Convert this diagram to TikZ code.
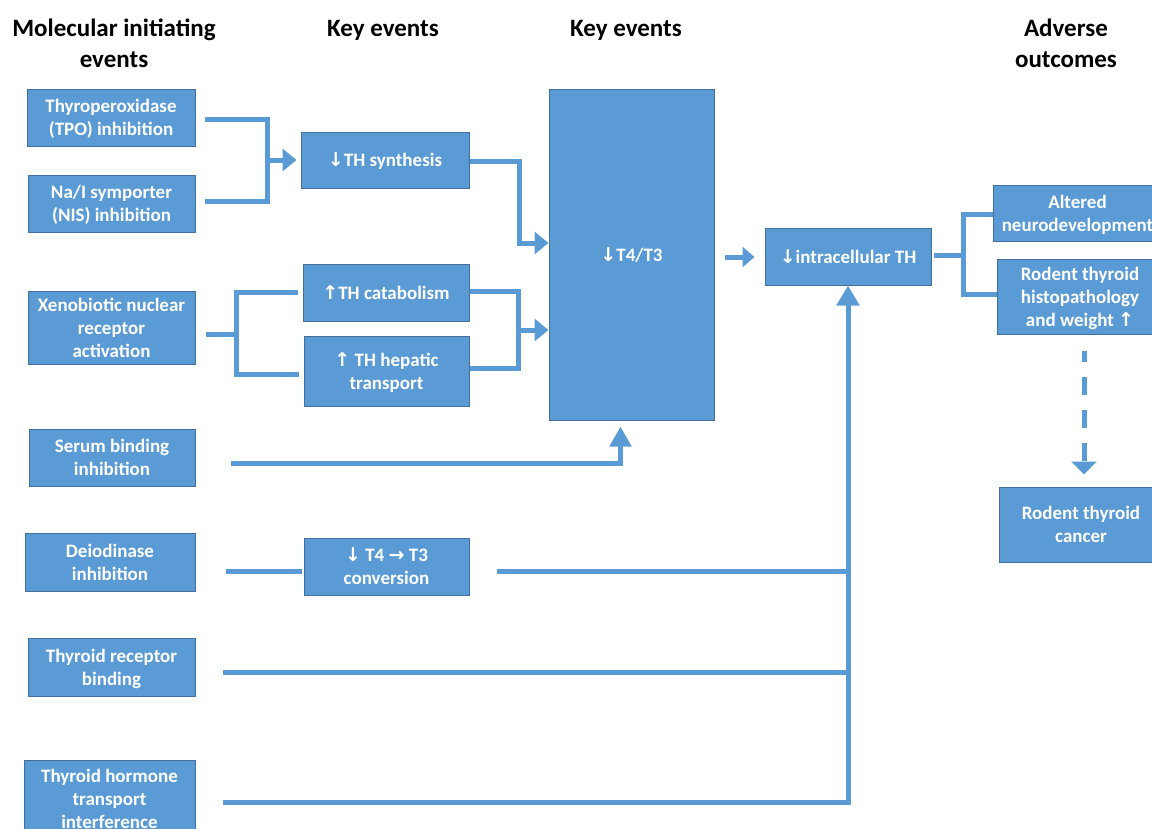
\documentclass[tikz,border=0pt]{standalone}
\usepackage{fontspec}
\setmainfont{Carlito}
\newfontfamily\symfont{DejaVu Sans}
\usetikzlibrary{arrows.meta,calc}
\definecolor{boxfill}{HTML}{5B9BD5}
\definecolor{boxedge}{HTML}{41719C}
\newcommand{\arrdown}{{\symfont\char"2193}}
\newcommand{\arrup}{{\symfont\char"2191}}
\newcommand{\arrright}{{\symfont\char"2192}}
% centred lines of box text, with a taller first row as in a word processor text frame
\newcommand{\cellstack}[1]{\begin{tabular}{@{}c@{}}\rule{0pt}{20pt}#1\end{tabular}}
\begin{document}
\begin{tikzpicture}[x=1pt,y=-1pt,
  box/.style={draw=boxedge, line width=1pt, fill=boxfill, text=white,
    font=\fontsize{19}{23}\selectfont\bfseries, inner sep=0pt},
  head/.style={font=\fontsize{25}{30.5}\selectfont\bfseries, align=center, text=black, inner sep=0pt},
  link/.style={draw=boxfill, line width=5pt},
  tip/.style={-{Triangle[length=14pt,width=22pt]}}]
\useasboundingbox (0,0) rectangle (1152,828);

% column headings
\node[head] (h1) at (114,43.5) {Molecular initiating\\events};
\node[head, anchor=base] (h2) at (383,36) {Key events};
\node[head, anchor=base] (h3) at (626,36) {Key events};
\node[head] (h4) at (1066,43.5) {Adverse\\outcomes};

% molecular initiating events
\node[box, minimum width=168pt, minimum height=57pt] (tpo) at (111,117.5) {\cellstack{Thyroperoxidase\\(TPO) inhibition}};
\node[box, minimum width=167pt, minimum height=57pt] (nis) at (111.5,203.5) {\cellstack{Na/I symporter\\(NIS) inhibition}};
\node[box, minimum width=167pt, minimum height=72pt] (xeno) at (111.5,328) {\cellstack{Xenobiotic nuclear\\receptor\\activation}};
\node[box, minimum width=166pt, minimum height=57pt] (serum) at (112,457.5) {\cellstack{Serum binding\\inhibition}};
\node[box, minimum width=170pt, minimum height=58pt] (deio) at (110,562) {\cellstack{Deiodinase\\inhibition}};
\node[box, minimum width=167pt, minimum height=58pt] (trb) at (111.5,667) {\cellstack{Thyroid receptor\\binding}};
\node[box, minimum width=171pt, minimum height=78pt] (tht) at (109.5,799) {\cellstack{Thyroid hormone\\transport\\interference}};

% key events
\node[box, minimum width=168pt, minimum height=56pt] (synth) at (385,160) {\cellstack{\arrdown TH synthesis}};
\node[box, minimum width=166pt, minimum height=57pt] (catab) at (386,292.5) {\cellstack{\arrup TH catabolism}};
\node[box, minimum width=165pt, minimum height=70pt] (hepat) at (386.5,371) {\cellstack{\arrup{} TH hepatic\\transport}};
\node[box, minimum width=165pt, minimum height=57pt] (conv) at (386.5,566.5) {\cellstack{\arrdown{} T4 \arrright{} T3\\conversion}};
\node[box, minimum width=165pt, minimum height=331pt] (t4t3) at (631.5,254.5) {\cellstack{\arrdown T4/T3}};
\node[box, minimum width=166pt, minimum height=57pt] (intra) at (848,256.5) {\cellstack{\arrdown intracellular TH}};

% adverse outcomes
\node[box, minimum width=169pt, minimum height=56pt] (neuro) at (1077.5,213) {\cellstack{Altered\\neurodevelopment}};
\node[box, minimum width=166pt, minimum height=75pt] (histo) at (1080,297) {\cellstack{Rodent thyroid\\histopathology\\and weight \arrup}};
\node[box, minimum width=164pt, minimum height=75pt] (cancer) at (1081,524.5) {\cellstack{Rodent thyroid\\cancer}};

% junction points
\coordinate (j1) at (267,160);
\coordinate (j2) at (519,243);
\coordinate (j3) at (236,334);
\coordinate (j4) at (518,330);
\coordinate (j5) at (963,255);

% TPO / NIS into TH synthesis
\draw[link] ($(tpo.east)+(9,1.5)$) -| (j1) |- ($(nis.east)+(9,-1.8)$);
\draw[link,tip] (j1) -- ($(synth.west)+(-4,0)$);
\draw[link,tip] ($(synth.east)+(0,1)$) -| (j2) -- (j2 -| t4t3.west);

% xenobiotic branch
\draw[link] ($(xeno.east)+(10,6)$) -- (j3);
\draw[link] ($(catab.west)+(-5,-0.5)$) -| (j3) |- ($(hepat.west)+(-5,3)$);
\draw[link] ($(catab.east)+(0,-1.5)$) -| (j4) |- ($(hepat.east)+(0,-3)$);
\draw[link,tip] (j4) -- (j4 -| t4t3.west);

% serum binding
\draw[link,-{Triangle[length=20pt,width=21pt]}] ($(serum.east)+(35,5.5)$) -| ($(t4t3.south)+(-11,6)$);

% deiodinase, receptor and transport lines into intracellular TH
\draw[link] ($(deio.east)+(30,9)$) -- ($(conv.west)+(-2,4.5)$);
\draw[link] ($(conv.east)+(27,4.5)$) -- ($(conv.east -| intra.south)+(2.5,4.5)$);
\draw[link] ($(trb.east)+(27,5)$) -- ($(trb.east -| intra.south)+(2.5,5)$);
\draw[link,-{Triangle[length=20pt,width=22pt]}] ($(tht.east)+(27,3)$) -| (intra.south);

% T4/T3 to intracellular TH
\draw[link,-{Triangle[length=12pt,width=20pt]}] ($(intra.west)+(-40,0.5)$) -- ($(intra.west)+(-10,0.5)$);

% intracellular TH to adverse outcomes
\draw[link] ($(intra.east)+(2,-1.5)$) -- (j5);
\draw[link] ($(neuro.west)+(0,1)$) -| (j5) |- ($(histo.west)+(0,-3)$);
\draw[link, dash pattern=on 18pt off 15pt, dash phase=7pt, -{Triangle[length=13pt,width=25pt]}]
  ($(histo.south)+(4,16)$) -- ($(cancer.north)+(3,-12)$);
\end{tikzpicture}
\end{document}
